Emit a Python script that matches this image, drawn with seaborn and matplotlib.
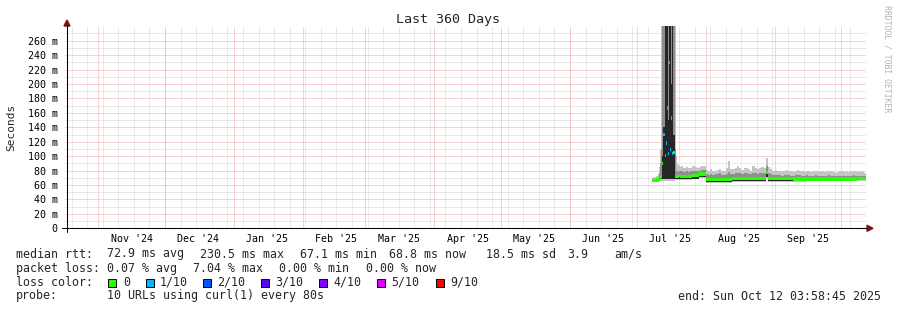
import numpy as np
import pandas as pd
import matplotlib
matplotlib.use("Agg")
import matplotlib.pyplot as plt
import matplotlib.dates as mdates
from matplotlib.patches import Polygon, Rectangle
from matplotlib.lines import Line2D
import seaborn as sns

# ---------------- data ----------------
END = pd.Timestamp("2025-10-12 03:58:45")
START = END - pd.Timedelta(days=360)

# 12-hour samples around the July spike, then daily samples
times_fine = pd.date_range("2025-07-08 00:00", "2025-07-20 12:00", freq="12h")
times_daily = pd.date_range("2025-07-21", "2025-10-11", freq="D")

median_fine = [66, 66, 66, 67, 67, 67, 68, 70, 72, 90, 130, 101, 118, 167, 104, 230,
               109, 153, 104, 105, 72, 72, 72, 72, 73, 72]
loss_fine = [0, 0, 0, 0, 0, 0, 0, 0, 0, 0, 1, 1, 1, 1, 1, 1, 1, 1, 1, 0, 0, 0, 0, 0, 0, 0]
min_fine = [64, 64, 64, 65, 65, 65, 65, 66, 66, 66, 66, 66, 66, 66, 66, 66, 66, 66, 66,
            66, 67, 67, 67, 67, 67, 67]
darklo_fine = [65, 65, 65, 66, 66, 66, 66, 67, 68, 68, 68, 68, 68, 68, 68, 68, 68, 68, 68,
               68, 68, 68, 68, 68, 69, 68]
darkhi_fine = [66, 66, 66, 67, 67, 67, 68, 70, 74, 100, 140, 300, 300, 300, 150, 300, 300,
               200, 300, 130, 72, 72, 72, 72, 73, 72]
midhi_fine = [69, 69, 69, 70, 70, 71, 76, 90, 110, 300, 300, 300, 300, 300, 300, 300, 300,
              300, 300, 300, 110, 80, 79, 78, 79, 79]
max_fine = [70, 71, 71, 72, 73, 75, 85, 108, 300, 300, 300, 300, 300, 300, 300, 300, 300,
            300, 300, 300, 300, 100, 91, 88, 86, 85]

median_daily = [72, 72, 72, 72, 72, 73, 73, 73, 75, 75, 75,
                68, 68, 68, 68, 68, 68, 68, 68, 68, 68, 68, 68,
                69, 69, 69, 69, 69, 69, 69, 69, 69, 69, 69, 69, 69, 69, 69,
                77,
                69, 69, 69,
                69, 69, 69, 69, 69, 69, 69, 69, 68.5, 68.5, 68.5, 68.5, 68.5, 68.5, 68.5,
                68.5, 68.5, 68.5, 68.5, 68.5, 68.5, 68.5, 68.5, 68.5, 68.5, 68.5, 68.5,
                68.5, 68.5, 68.5,
                68.5, 68.5, 68.5, 68.5, 68.5, 68.5, 68.5, 68.8, 68.8, 68.8, 68.8]
loss_daily = [0] * 83
min_daily = [67, 67, 67, 67, 67, 68, 68, 68, 70, 70, 70,
             63, 63, 63, 63, 63, 63, 63, 63, 63, 63, 63, 63,
             64, 64, 64, 64, 64, 64, 64, 64, 64, 64, 64, 64, 64, 64, 64,
             70,
             64, 64, 64,
             64, 64, 64, 64, 64, 64, 64, 64, 64, 64, 64, 64, 64, 64, 66,
             66, 66, 66, 66, 66, 66, 66, 66, 66, 66, 66, 66, 66, 66, 66,
             66, 66, 66, 66, 66, 66, 66, 66, 66, 66, 66]
darklo_daily = [68, 68, 68, 68, 68, 69, 69, 69, 71, 71, 71,
                64, 64, 64, 64, 64, 64, 64, 64, 64, 64, 64, 64,
                65, 65, 65, 65, 65, 65, 65, 65, 65, 65, 65, 65, 65, 65, 65,
                71,
                65, 65, 65,
                65, 65, 65, 65, 65, 65, 65, 65, 65, 65, 65, 65, 65, 65, 66.5,
                66.5, 66.5, 66.5, 66.5, 66.5, 66.5, 66.5, 66.5, 66.5, 66.5, 66.5, 66.5, 66.5,
                66.5, 66.5,
                66.5, 66.5, 66.5, 66.5, 66.5, 66.5, 66.5, 66.5, 66.5, 66.5, 66.5]
darkhi_daily = [72, 72, 72, 72, 72, 73, 73, 73, 75, 75, 75,
                68, 68, 68, 68, 68, 68, 68, 68, 68, 68, 68, 68,
                69, 69, 69, 69, 69, 69, 69, 69, 69, 69, 69, 69, 69, 69, 69,
                80,
                69, 69, 69,
                69, 69, 69, 69, 69, 69, 69, 69, 68.5, 68.5, 68.5, 68.5, 68.5, 68.5, 68.5,
                68.5, 68.5, 68.5, 68.5, 68.5, 68.5, 68.5, 68.5, 68.5, 68.5, 68.5, 68.5,
                68.5, 68.5, 68.5,
                68.5, 68.5, 68.5, 68.5, 68.5, 68.5, 68.5, 68.8, 68.8, 68.8, 68.8]
midhi_daily = [79, 78, 79, 78, 79, 80, 79, 79, 80, 81, 81,
               75, 74, 75, 74, 75, 75, 76, 74, 74, 75, 78, 75,
               75, 76, 77, 76, 75, 76, 76, 75, 75, 77, 76, 75, 76, 77, 76,
               86,
               77, 75, 74,
               74, 74, 74, 73, 74, 74, 74, 73, 73, 74, 74, 74, 73, 73, 74,
               73, 73, 73, 74, 73, 73, 73, 73, 73, 74, 73, 73, 72, 73, 73,
               73, 73, 73, 73, 73, 74, 73, 73, 73, 73, 72]
max_daily = [86, 84, 85, 83, 84, 86, 85, 84, 85, 86, 87,
             81, 80, 82, 79, 80, 81, 82, 80, 79, 83, 93, 82,
             82, 83, 87, 84, 81, 83, 84, 82, 80, 86, 83, 82, 84, 85, 83,
             97,
             85, 82, 80,
             81, 80, 80, 79, 80, 81, 80, 79, 78, 80, 81, 80, 79, 78, 80,
             79, 78, 79, 80, 79, 78, 79, 78, 79, 80, 79, 78, 77, 78, 79,
             79, 78, 79, 78, 79, 80, 79, 78, 79, 78, 77]

y_ticks = [0, 20, 40, 60, 80, 100, 120, 140, 160, 180, 200, 220, 240, 260]
y_tick_labels = ["0"] + [f"{v} m" for v in y_ticks[1:]]
month_labels = ["Nov '24", "Dec '24", "Jan '25", "Feb '25", "Mar '25", "Apr '25",
                "May '25", "Jun '25", "Jul '25", "Aug '25", "Sep '25"]
loss_names = ["0", "1/10", "2/10", "3/10", "4/10", "5/10", "9/10"]
loss_colors = ["#26ff00", "#00b8ff", "#0059ff", "#5e00ff", "#7e00ff", "#dd00ff", "#ff0000"]

# --------------- assemble ---------------
times = times_fine.append(times_daily)
edges = times.append(pd.DatetimeIndex([END]))
x = mdates.date2num(times.to_pydatetime())
w = np.diff(mdates.date2num(edges.to_pydatetime()))
median = np.array(median_fine + median_daily, float)
loss = np.array(loss_fine + loss_daily, int)
smin = np.array(min_fine + min_daily, float)
dlo = np.array(darklo_fine + darklo_daily, float)
dhi = np.array(darkhi_fine + darkhi_daily, float)
mhi = np.array(midhi_fine + midhi_daily, float)
smax = np.array(max_fine + max_daily, float)

# --------------- figure ---------------
sns.set_theme(style="white")
plt.rcParams['font.family'] = ['DejaVu Sans Mono', 'DejaVu Sans']

W, H = 897, 310
fig = plt.figure(figsize=(W / 100, H / 100), dpi=100, facecolor="white")

X0, X1 = 65.3, 866.3
Y0 = 228.3
px_per_m = 0.7215
YMAX = 280
ax = fig.add_axes([X0 / W, (H - Y0) / H, (X1 - X0) / W, YMAX * px_per_m / H])
ax.set_facecolor("white")
for s in ax.spines.values():
    s.set_visible(False)

xmin = mdates.date2num(START.to_pydatetime())
xmax = mdates.date2num(END.to_pydatetime())
ax.set_xlim(xmin, xmax)
ax.set_ylim(0, YMAX)

dash = (0, (1, 1))
GRID_MINOR = "#d4d4d4"
GRID_MAJOR = "#f3a6a6"
gkw = dict(lw=0.72, ls=dash, antialiased=True, snap=True)
for v in range(10, YMAX, 10):
    ax.axhline(v, color=GRID_MAJOR if v % 20 == 0 else GRID_MINOR, zorder=0, **gkw)
weeks = pd.date_range(START.normalize(), END, freq="W-SUN")
for d in weeks:
    ax.axvline(mdates.date2num(d.to_pydatetime()), color=GRID_MINOR, zorder=0, **gkw)
months = pd.date_range("2024-11-01", END, freq="MS")
for d in months:
    ax.axvline(mdates.date2num(d.to_pydatetime()), color=GRID_MAJOR, zorder=0.5, **gkw)

kw = dict(align="edge", linewidth=0, antialiased=False)
ax.bar(x, np.minimum(smax, 300) - smin, width=w, bottom=smin, color="#c4c4c4", zorder=2, **kw)
ax.bar(x, np.minimum(mhi, 300) - dlo, width=w, bottom=dlo, color="#8e8e8e", zorder=3, **kw)
ax.bar(x, np.minimum(dhi, 300) - dlo, width=w, bottom=dlo, color="#262626", zorder=4, **kw)
sw = 2.4
for lvl, col in enumerate(loss_colors):
    m = loss == lvl
    if m.any():
        ax.bar(x[m], 2 * sw, width=w[m], bottom=median[m] - sw, color=col, zorder=5, **kw)

# ticks
ax.set_yticks(y_ticks)
ax.set_yticklabels(y_tick_labels)
ax.set_yticks(list(range(10, YMAX, 20)), minor=True)
ax.tick_params(axis="y", which="major", length=3, width=0.7, color="black", pad=2.6,
               labelsize=7.2, direction="out")
ax.tick_params(axis="y", which="minor", length=2, width=0.7, color="black")
mid_month = [mdates.date2num((d + pd.Timedelta(days=15)).to_pydatetime()) for d in months[:11]]
ax.set_xticks(mid_month)
ax.set_xticklabels(month_labels)
ax.tick_params(axis="x", which="major", length=0, pad=4.0, labelsize=7.2)
for lab in ax.get_xticklabels() + ax.get_yticklabels():
    lab.set_fontfamily("DejaVu Sans Mono")
    lab.set_color("black")

def fx(px):
    return px / W

def fy(py):
    return 1 - py / H

# axis lines and arrows
fig.add_artist(Line2D([fx(67), fx(67)], [fy(232), fy(25)], color="black", lw=0.75))
fig.add_artist(Line2D([fx(62), fx(867)], [fy(228.3), fy(228.3)], color="black", lw=0.75))
arrow_col = "#7a1414"
fig.add_artist(Polygon([(fx(64), fy(26)), (fx(70), fy(26)), (fx(67), fy(20))],
                       closed=True, color=arrow_col, transform=fig.transFigure))
fig.add_artist(Polygon([(fx(867), fy(225.3)), (fx(867), fy(231.3)), (fx(873), fy(228.3))],
                       closed=True, color=arrow_col, transform=fig.transFigure))

# titles
fig.text(fx(448), fy(19), "Last 360 Days", ha="center", va="center", fontsize=9.6)
fig.text(fx(11), fy(127), "Seconds", ha="center", va="center", rotation=90, fontsize=8)
fig.text(fx(887), fy(59), "RRDTOOL / TOBI OETIKER", ha="center", va="center",
         rotation=270, fontsize=5.9, color="#b4b4b4")

# legend
FS = 8.4
def t(px, py, s, **k):
    fig.text(fx(px), fy(py), s, ha=k.pop("ha", "left"), va="center", fontsize=FS, **k)

r1, r2, r3, r4 = 254, 268.3, 282.3, 296
t(16, r1, "median rtt:")
t(107, r1, "72.9 ms avg")
t(200, r1, "230.5 ms max")
t(300, r1, "67.1 ms min")
t(389, r1, "68.8 ms now")
t(486, r1, "18.5 ms sd")
t(567, r1, "3.9")
t(614, r1, "am/s")
t(16, r2, "packet loss:")
t(107, r2, "0.07 % avg")
t(193, r2, "7.04 % max")
t(279, r2, "0.00 % min")
t(366, r2, "0.00 % now")
t(16, r3, "loss color:")
box_x = [108, 146, 203, 261, 319, 377, 436]
lab_x = [123, 160, 217, 275, 333, 391, 450]
for bx, lx, name, col in zip(box_x, lab_x, loss_names, loss_colors):
    fig.add_artist(Rectangle((fx(bx), fy(286.5)), 8 / W, 8 / H, facecolor=col,
                             edgecolor="black", lw=0.7, transform=fig.transFigure))
    t(lx, r3, name)
t(16, r4, "probe:")
t(107, r4, "10 URLs using curl(1) every 80s")
t(881, r4, "end: Sun Oct 12 03:58:45 2025", ha="right")

fig.savefig("out.png", dpi=100, facecolor="white")
